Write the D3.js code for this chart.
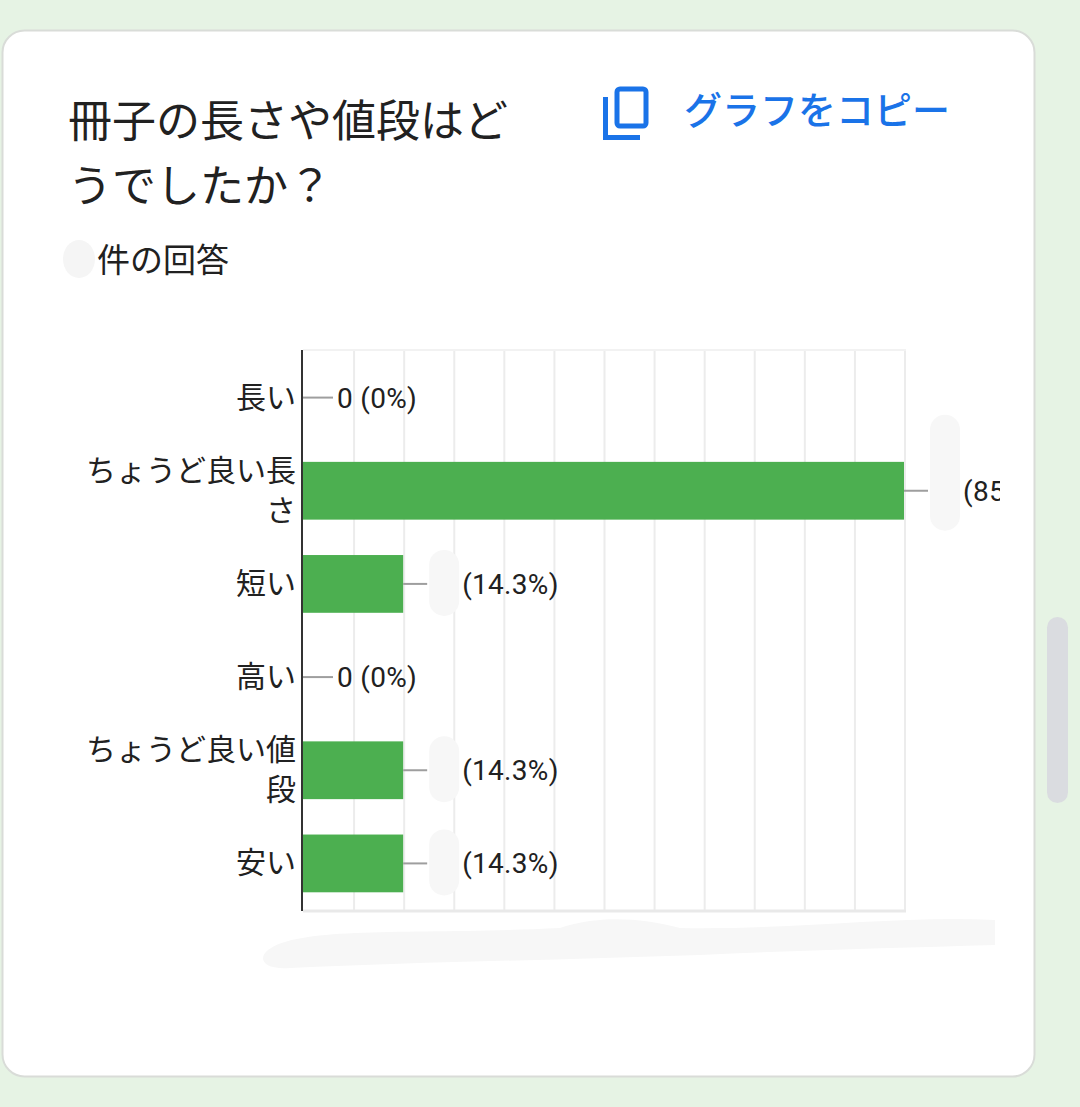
<!DOCTYPE html>
<html>
<head>
<meta charset="utf-8">
<script src="https://cdn.jsdelivr.net/npm/d3@7"></script>
<style>
  html, body { margin: 0; padding: 0; background: #e6f3e4; }
  svg { display: block; }
</style>
</head>
<body>
<script>
// question / header texts
var titleLines = ["冊子の長さや値段はど", "うでしたか？"];
var copyLabel = "グラフをコピー";
var responseLabel = "件の回答";

// categories and values (counts, percents)
var categories = ["長い", "ちょうど良い長さ", "短い", "高い", "ちょうど良い値段", "安い"];
var counts = [0, 6, 1, 0, 1, 1];
var percents = ["0%", "85.7%", "14.3%", "0%", "14.3%", "14.3%"];
var gridStep = 0.5;

const jpFont = "'Noto Sans CJK JP', 'Noto Sans', sans-serif",
      numFont = "Roboto, 'Noto Sans CJK JP', sans-serif";

const barCol = "#4caf50",
      blue = "#1a73e8",
      textCol = "#212121";

var svg = d3.select("body")
    .append("svg")
    .attr("width", 1080)
    .attr("height", 1107);

// card
svg.append("rect")
    .attr("x", 2.5)
    .attr("y", 30.5)
    .attr("width", 1032)
    .attr("height", 1046)
    .attr("rx", 22)
    .attr("fill", "white")
    .attr("stroke", "#d9dcd8")
    .attr("stroke-width", 2);

// scrollbar thumb
svg.append("rect")
    .attr("x", 1047)
    .attr("y", 617)
    .attr("width", 21)
    .attr("height", 186)
    .attr("rx", 10.5)
    .attr("fill", "#dadce0");

// title
var title = svg.append("text")
    .attr("font-family", jpFont)
    .attr("font-size", "44px")
    .attr("fill", textCol);
titleLines.forEach(function (t, i) {
    title.append("tspan")
        .attr("x", 68)
        .attr("y", 137 + i * 65)
        .text(t);
});

// copy icon
var icon = svg.append("g")
    .attr("fill", "none")
    .attr("stroke", blue)
    .attr("stroke-width", 5);
icon.append("rect")
    .attr("x", 617)
    .attr("y", 89)
    .attr("width", 29)
    .attr("height", 37)
    .attr("rx", 3);
icon.append("path")
    .attr("d", "M605.5,97 V137.5 H640");

svg.append("text")
    .text(copyLabel)
    .attr("x", 684)
    .attr("y", 124)
    .attr("font-family", jpFont)
    .attr("font-size", "38px")
    .attr("font-weight", 500)
    .attr("fill", blue);

// redacted response count + label
svg.append("ellipse")
    .attr("cx", 79)
    .attr("cy", 259)
    .attr("rx", 16)
    .attr("ry", 19)
    .attr("fill", "#f5f5f5");
svg.append("text")
    .text(responseLabel)
    .attr("x", 97)
    .attr("y", 272)
    .attr("font-family", jpFont)
    .attr("font-size", "33px")
    .attr("fill", textCol);

// chart area
var plotL = 303, plotR = 904, plotT = 351, plotB = 910;

var defs = svg.append("defs");
defs.append("clipPath")
    .attr("id", "chartclip")
    .append("rect")
    .attr("x", 0).attr("y", 300)
    .attr("width", 1000).attr("height", 640);

var chart = svg.append("g").attr("clip-path", "url(#chartclip)");

var x = d3.scaleLinear()
    .domain([0, d3.max(counts)])
    .range([plotL, plotR]);

var y = d3.scaleBand()
    .domain(categories)
    .range([plotT, plotB])
    .paddingInner(0.38)
    .paddingOuter(0.19);

// grid
var ticks = d3.range(0, d3.max(counts) + gridStep / 2, gridStep);
chart.append("g")
    .selectAll("line")
    .data(ticks.slice(1))
    .join("line")
    .attr("x1", d => x(d) + 1)
    .attr("x2", d => x(d) + 1)
    .attr("y1", plotT - 1)
    .attr("y2", plotB)
    .attr("stroke", "#ececec")
    .attr("stroke-width", 2);
chart.append("line")
    .attr("x1", plotL).attr("x2", x(d3.max(counts)) + 2)
    .attr("y1", plotT - 1).attr("y2", plotT - 1)
    .attr("stroke", "#f2f2f2").attr("stroke-width", 2);
chart.append("line")
    .attr("x1", plotL).attr("x2", x(d3.max(counts)) + 2)
    .attr("y1", plotB + 1).attr("y2", plotB + 1)
    .attr("stroke", "#e9e9e9").attr("stroke-width", 3);

// bars
chart.append("g")
    .selectAll("rect")
    .data(categories)
    .join("rect")
    .attr("x", plotL)
    .attr("y", d => y(d))
    .attr("width", (d, i) => x(counts[i]) - plotL)
    .attr("height", y.bandwidth())
    .attr("fill", barCol);

// axis line
chart.append("line")
    .attr("x1", plotL - 1).attr("x2", plotL - 1)
    .attr("y1", plotT - 1).attr("y2", plotB + 1)
    .attr("stroke", "#333")
    .attr("stroke-width", 2);

// value labels with leader lines
categories.forEach(function (c, i) {
    var cy = y(c) + y.bandwidth() / 2;
    var x0 = x(counts[i]);
    var lineLen = counts[i] === 0 ? 30 : 24;
    chart.append("line")
        .attr("x1", x0).attr("x2", x0 + lineLen)
        .attr("y1", cy).attr("y2", cy)
        .attr("stroke", "#9e9e9e")
        .attr("stroke-width", 2);
    var label = chart.append("text")
        .attr("y", cy + 10)
        .attr("font-family", numFont)
        .attr("font-size", "28px")
        .attr("letter-spacing", "0.3px")
        .attr("fill", textCol);
    if (counts[i] === 0) {
        label.attr("x", x0 + lineLen + 4)
            .text(counts[i] + " (" + percents[i] + ")");
    } else {
        // count is blanked out in the reference
        chart.append("rect")
            .attr("x", x0 + 26)
            .attr("y", cy - (counts[i] > 1 ? 76 : 34))
            .attr("width", 30)
            .attr("height", counts[i] > 1 ? 116 : 66)
            .attr("rx", 15)
            .attr("fill", "#f7f7f7");
        label.attr("x", x0 + 59)
            .text("(" + percents[i] + ")");
    }
});

// category labels (wrapped char by char)
var catLabels = svg.append("g");
categories.forEach(function (c, i) {
    var cy = y(c) + y.bandwidth() / 2;
    var t = catLabels.append("text")
        .attr("font-family", jpFont)
        .attr("font-size", "30px")
        .attr("fill", textCol)
        .attr("text-anchor", "end");
    var lines = [], cur = "";
    var probe = t.append("tspan");
    for (var ch of c) {
        probe.text(cur + ch);
        if (probe.node().getComputedTextLength() > 220 && cur.length) {
            lines.push(cur);
            cur = ch;
        } else {
            cur += ch;
        }
    }
    lines.push(cur);
    probe.remove();
    var lh = 40;
    lines.forEach(function (l, k) {
        t.append("tspan")
            .attr("x", 296)
            .attr("y", cy + 10 + (k - (lines.length - 1) / 2) * lh)
            .text(l);
    });
});

// blanked-out area under the chart
svg.append("path")
    .attr("d", "M268,950 C300,925 420,935 560,928 C600,915 640,918 680,928 C800,930 900,915 995,920 L995,945 C900,948 800,950 700,955 C560,960 420,962 290,968 C262,970 258,958 268,950 Z")
    .attr("fill", "#f7f7f7");
</script>
</body>
</html>
